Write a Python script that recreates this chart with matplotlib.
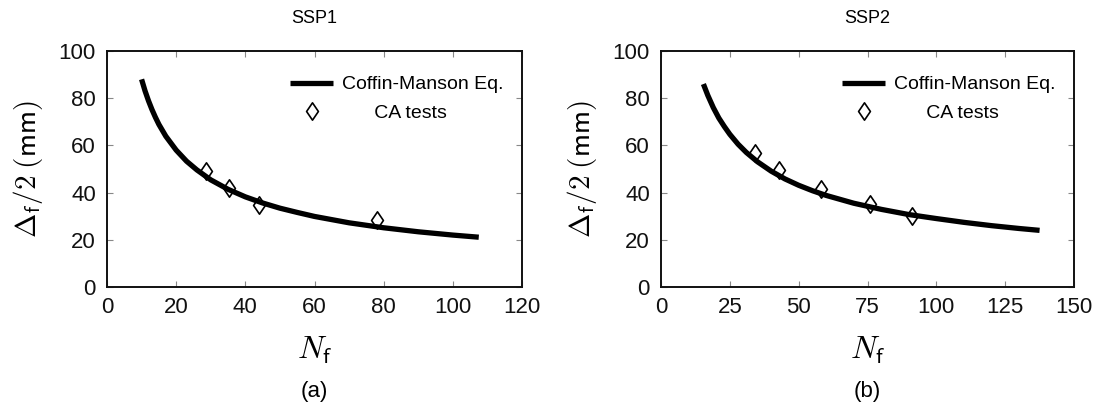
import matplotlib
matplotlib.use("Agg")
import matplotlib.pyplot as plt
from matplotlib.lines import Line2D
from matplotlib.path import Path

plt.rcParams['font.family'] = ['Liberation Sans', 'DejaVu Sans']
plt.rcParams['mathtext.fontset'] = 'cm'

# ---- data ----
# SSP1
ssp1_curve_N = [10, 11, 12, 13, 14, 15, 17, 20, 23, 26, 30, 35, 40, 45, 50, 55, 60,
                70, 80, 90, 100, 107.5]
ssp1_curve_D = [88.0, 83.1, 78.9, 75.2, 71.9, 68.9, 63.9, 58.0, 53.3, 49.6, 45.4,
                41.4, 38.2, 35.6, 33.4, 31.6, 29.9, 27.2, 25.1, 23.4, 22.0, 21.1]
ssp1_test_N = [28.5, 35.4, 43.9, 78]
ssp1_test_D = [49.2, 42.0, 34.7, 28.4]

# SSP2
ssp2_curve_N = [15.4, 17, 19, 21, 23, 25, 28, 31, 35, 40, 45, 50, 55, 60, 70, 80,
                90, 100, 110, 120, 130, 137.5]
ssp2_curve_D = [86.0, 81.2, 76.0, 71.6, 68.0, 64.7, 60.5, 57.0, 53.1, 49.1, 45.8,
                43.1, 40.8, 38.8, 35.5, 32.9, 30.7, 29.0, 27.4, 26.0, 24.8, 24.0]
ssp2_test_N = [34, 43, 58, 76, 91]
ssp2_test_D = [56.6, 49.6, 41.5, 35.2, 30.2]

titles = ['SSP1', 'SSP2']
panel_labels = ['(a)', '(b)']
xlims = [(0, 120), (0, 150)]
xticks = [[0, 20, 40, 60, 80, 100, 120], [0, 25, 50, 75, 100, 125, 150]]
yticks = [0, 20, 40, 60, 80, 100]
legend_labels = ['Coffin-Manson Eq.', 'CA tests']

curves = [(ssp1_curve_N, ssp1_curve_D), (ssp2_curve_N, ssp2_curve_D)]
tests = [(ssp1_test_N, ssp1_test_D), (ssp2_test_N, ssp2_test_D)]

diamond = Path([(0, 1), (0.68, 0), (0, -1), (-0.68, 0), (0, 1)],
               [Path.MOVETO, Path.LINETO, Path.LINETO, Path.LINETO, Path.CLOSEPOLY])
mk = dict(marker=diamond, markersize=12.5, markerfacecolor='none',
          markeredgecolor='black', markeredgewidth=1.2)

W, H = 1102, 416
fig = plt.figure(figsize=(W / 100, H / 100), dpi=100)
boxes = [(107, 522), (661, 1074)]
top_px, bot_px = 51, 287

for i in range(2):
    x0, x1 = boxes[i]
    ax = fig.add_axes([x0 / W, (H - bot_px) / H, (x1 - x0) / W, (bot_px - top_px) / H])
    cN, cD = curves[i]
    tN, tD = tests[i]
    ax.plot(cN, cD, color='black', lw=3.8, solid_capstyle='butt',
            label=legend_labels[0], zorder=2)
    ax.plot(tN, tD, linestyle='none', label=legend_labels[1], zorder=3, **mk)
    ax.set_xlim(*xlims[i])
    ax.set_ylim(0, 100)
    ax.set_xticks(xticks[i])
    ax.set_yticks(yticks)
    ax.tick_params(direction='in', length=4, width=0.8, color='#888888',
                   top=True, right=True, labelsize=16, labelcolor='#111111')
    ax.tick_params(axis='y', pad=8)
    ax.tick_params(axis='x', pad=7)
    for s in ax.spines.values():
        s.set_linewidth(1.4)
        s.set_color('#111111')
    ax.set_ylabel(r'$\Delta_{\mathsf{f}}/2\;\mathsf{(mm)}$', fontsize=21, labelpad=10)
    ax.set_xlabel(r'$N_{\mathsf{f}}$', fontsize=23, labelpad=12)
    ax.set_title(titles[i], fontsize=13, pad=20)

    handles = [Line2D([], [], color='black', lw=3.8, solid_capstyle='butt'),
               Line2D([], [], linestyle='none', **mk)]
    ax.legend(handles, [legend_labels[0], '      ' + legend_labels[1]],
              loc='upper right', bbox_to_anchor=(1.0, 0.974), frameon=False,
              fontsize=14, handlelength=2.2, handletextpad=0.45,
              labelspacing=0.55, borderaxespad=0.56)

    fig.text((x0 + x1) / 2 / W, 1 - 392 / H, panel_labels[i], fontsize=16,
             ha='center', va='center')

fig.savefig('out.png', dpi=100)
